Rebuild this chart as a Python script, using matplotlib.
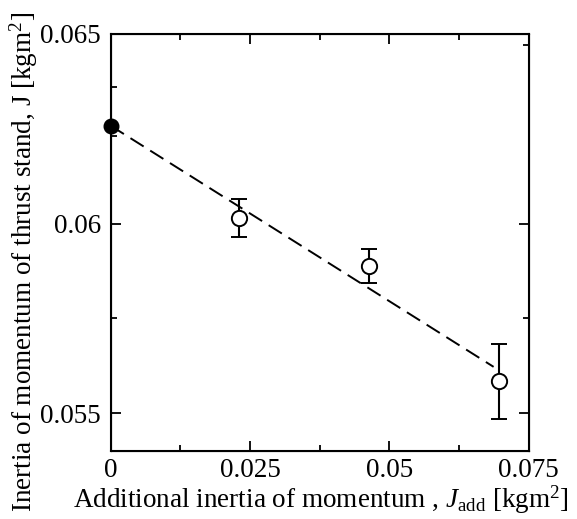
import matplotlib
matplotlib.use('Agg')
import matplotlib.pyplot as plt
from matplotlib.ticker import FixedLocator

plt.rcParams['font.family'] = 'Liberation Serif'
plt.rcParams['mathtext.fontset'] = 'custom'
plt.rcParams['mathtext.rm'] = 'Liberation Serif'
plt.rcParams['mathtext.it'] = 'Liberation Serif:italic'

# measured data
j_add = [0.0231, 0.0464, 0.0696]
j_meas = [0.06014, 0.05889, 0.05584]
j_err = [0.00050, 0.00045, 0.00099]

# extrapolated value at J_add = 0
j0_x = [0.0]
j0_y = [0.06258]

# linear fit line
fit_x = [0.0, 0.0687]
fit_y = [0.06258, 0.05622]

xticks = [0, 0.025, 0.05, 0.075]
xlabels = ['0', '0.025', '0.05', '0.075']
yticks = [0.055, 0.06, 0.065]
ylabels = ['0.055', '0.06', '0.065']

fig = plt.figure(figsize=(5.77, 5.19), dpi=100)
ax = fig.add_axes([0.1919, 0.131, 0.7244, 0.8035])

ax.plot(fit_x, fit_y, color='black', lw=1.4, dashes=(8, 4))
ax.errorbar(j_add, j_meas, yerr=j_err, fmt='o', ms=11, mfc='white', mec='black',
            mew=1.4, ecolor='black', elinewidth=1.5, capsize=5.5, capthick=1.5, zorder=3)
ax.plot(j0_x, j0_y, 'o', color='black', ms=10.5, clip_on=False, zorder=4)

ax.set_xlim(0, 0.075)
ax.set_ylim(0.054, 0.065)
ax.set_xticks(xticks)
ax.set_xticklabels(xlabels)
ax.set_yticks(yticks)
ax.set_yticklabels(ylabels)
ax.xaxis.set_minor_locator(FixedLocator([0.0125, 0.0375, 0.0625]))
ax.yaxis.set_minor_locator(FixedLocator([0.0575, 0.0623, 0.0636]))

ax.tick_params(which='both', direction='in', top=True, right=False, width=1.3,
               labelsize=19.5)
ax.tick_params(which='major', length=7, pad=7)
ax.tick_params(which='minor', length=4.5)
ax.tick_params(axis='x', which='major', pad=5)
for s in ax.spines.values():
    s.set_linewidth(1.5)

# right side ticks
ax2 = ax.twinx()
ax2.set_ylim(0.054, 0.065)
ax2.set_yticks([0.055, 0.06])
ax2.yaxis.set_minor_locator(FixedLocator([0.0575, 0.0647]))
ax2.tick_params(which='both', direction='in', width=1.3, labelright=False)
ax2.tick_params(which='major', length=7)
ax2.tick_params(which='minor', length=4.5)

ax.set_xlabel(r'Additional inertia of momentum , $J_{\rm add}$ [kgm$^2$]', fontsize=19.5)
ax.set_ylabel(r'Inertia of momentum of thrust stand, J [kgm$^2$]', fontsize=19.5)
ax.xaxis.set_label_coords(0.502, -0.078)
ax.yaxis.set_label_coords(-0.169, 0.454)

fig.savefig('out.png', dpi=100)
